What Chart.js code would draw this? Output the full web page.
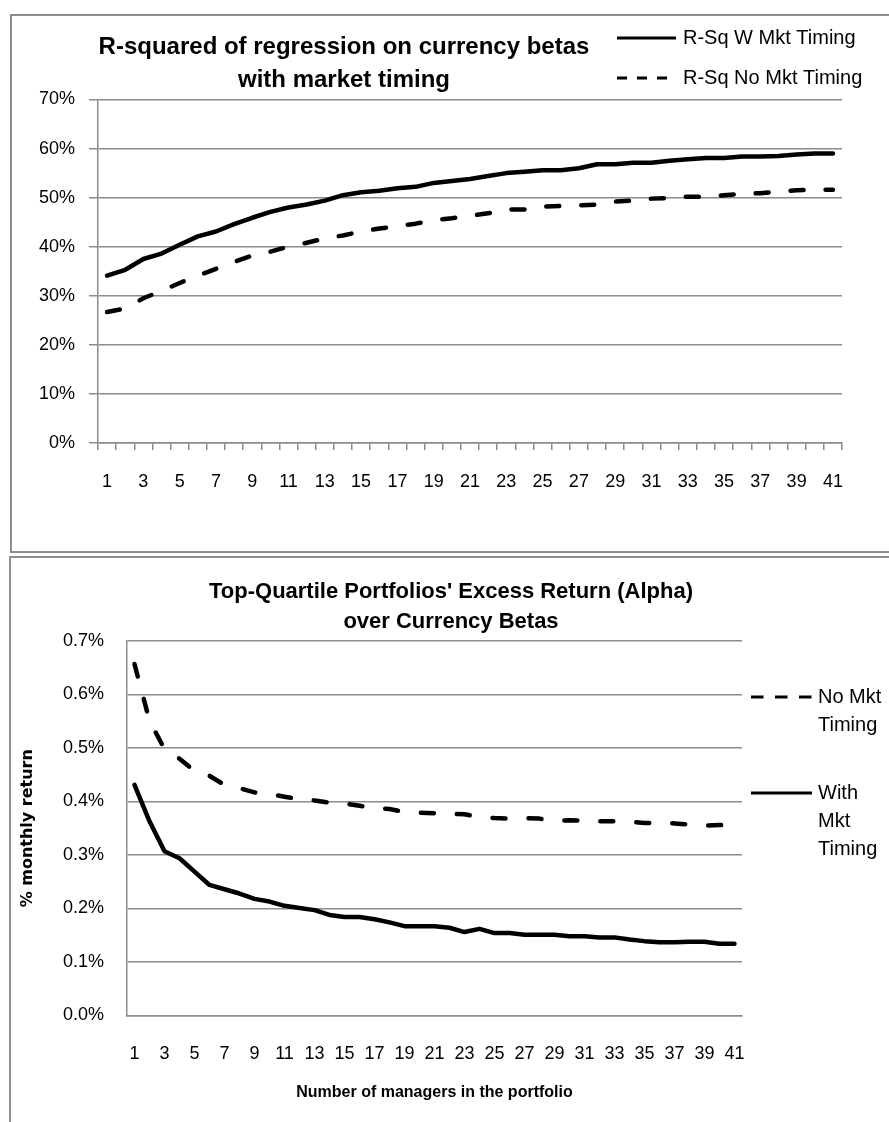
<!DOCTYPE html>
<html>
<head>
<meta charset="utf-8">
<script src="https://cdn.jsdelivr.net/npm/chart.js@4.4.1/dist/chart.umd.min.js"></script>
<style>
html,body{margin:0;padding:0;background:#fff;width:889px;height:1122px;overflow:hidden;position:relative}
.box{position:absolute;border:2px solid #8e8e8e;box-sizing:border-box}
#box1{left:10px;top:14px;width:920px;height:539px}
#box2{left:9px;top:556px;width:920px;height:620px}
canvas{position:absolute;left:0}
#c1{top:0}
#c2{top:555px}
</style>
</head>
<body>
<div class="box" id="box1"></div>
<div class="box" id="box2"></div>
<canvas id="c1" width="889" height="555"></canvas>
<canvas id="c2" width="889" height="567"></canvas>
<script>
// ---------- data ----------
const managers = ['1','2','3','4','5','6','7','8','9','10','11','12','13','14','15','16','17','18','19','20',
  '21','22','23','24','25','26','27','28','29','30','31','32','33','34','35','36','37','38','39','40','41'];

// Chart 1: R-squared (%)
const rsqWithTiming = [34.1,35.3,37.5,38.6,40.4,42.1,43.1,44.6,45.9,47.1,48.0,48.6,49.4,50.5,51.1,51.4,51.9,52.2,53.0,53.4,
  53.8,54.4,55.0,55.3,55.6,55.6,56.0,56.8,56.8,57.1,57.1,57.5,57.8,58.1,58.1,58.4,58.4,58.5,58.8,59.0,59.0];
const rsqNoTiming = [26.7,27.4,29.5,31.0,32.6,34.1,35.5,36.9,38.2,39.0,40.0,40.8,41.7,42.3,43.1,43.7,44.2,44.7,45.4,45.8,
  46.3,46.8,47.6,47.6,48.2,48.3,48.4,48.6,49.2,49.4,49.8,49.9,50.2,50.2,50.5,50.8,50.9,51.2,51.5,51.6,51.6];

// Chart 2: alpha, % monthly return
const alphaNoTiming = [0.657,0.551,0.498,0.480,0.457,0.448,0.431,0.425,0.417,0.414,0.409,0.404,0.402,0.398,0.396,0.392,0.388,0.386,0.380,0.379,
  0.378,0.377,0.376,0.371,0.369,0.368,0.369,0.368,0.364,0.365,0.364,0.363,0.363,0.362,0.360,0.360,0.359,0.357,0.355,0.356,0.355];
const alphaWithTiming = [0.431,0.363,0.307,0.294,0.269,0.244,0.236,0.228,0.218,0.213,0.205,0.201,0.197,0.188,0.184,0.184,0.180,0.174,0.167,0.167,
  0.167,0.164,0.156,0.162,0.154,0.154,0.151,0.151,0.151,0.148,0.148,0.146,0.146,0.142,0.139,0.137,0.137,0.138,0.138,0.134,0.134];

const title1 = ['R-squared of regression on currency betas', 'with market timing'];
const title2 = ["Top-Quartile Portfolios' Excess Return (Alpha)", 'over Currency Betas'];
const series1Labels = ['R-Sq W Mkt Timing', 'R-Sq No Mkt Timing'];
const series2Labels = ['No Mkt Timing', 'With Mkt Timing'];
const legend2Lines = [['No Mkt', 'Timing'], ['With', 'Mkt', 'Timing']];
const yTitle2 = '% monthly return';
const xTitle2 = 'Number of managers in the portfolio';

// ---------- styling ----------
const GRID = '#8c8c8c';
const SANS = "'Liberation Sans', Arial, sans-serif";

function overlay(id, spec) {
  return {
    id: id,
    afterDraw(chart) {
      const ctx = chart.ctx;
      ctx.save();
      ctx.fillStyle = '#000';
      ctx.textBaseline = 'middle';
      ctx.font = spec.titleFont;
      ctx.textAlign = 'center';
      spec.title.forEach((t, k) => ctx.fillText(t, spec.titleX, spec.titleY + k * spec.titleStep));
      ctx.font = spec.legendFont;
      ctx.textAlign = 'left';
      spec.legend.forEach(it => {
        const ds = chart.data.datasets[it.dataset];
        ctx.strokeStyle = ds.borderColor;
        ctx.lineWidth = spec.legendLineWidth;
        ctx.lineCap = 'butt';
        ctx.setLineDash(it.dash);
        ctx.beginPath();
        ctx.moveTo(it.x1, it.y);
        ctx.lineTo(it.x2, it.y);
        ctx.stroke();
        ctx.setLineDash([]);
        it.lines.forEach((ln, j) => ctx.fillText(ln, it.textX, it.y + j * spec.legendStep));
      });
      ctx.restore();
    }
  };
}

const lineStyle = {borderColor: '#000', borderWidth: 4.5, pointRadius: 0, pointHoverRadius: 0, tension: 0,
  borderCapStyle: 'round', borderJoinStyle: 'round', fill: false};

// ---------- chart 1 ----------
new Chart(document.getElementById('c1'), {
  type: 'line',
  data: {
    labels: managers,
    datasets: [
      Object.assign({label: series1Labels[0], data: rsqWithTiming}, lineStyle),
      Object.assign({label: series1Labels[1], data: rsqNoTiming, borderDash: [13, 22]}, lineStyle)
    ]
  },
  options: {
    responsive: false, animation: false, devicePixelRatio: 1,
    layout: {padding: {left: 0, right: 47, top: 99.5, bottom: 52}},
    plugins: {legend: {display: false}, title: {display: false}, tooltip: {enabled: false}},
    scales: {
      x: {
        offset: true,
        grid: {offset: true, drawOnChartArea: false, drawTicks: true, tickLength: 7, color: GRID, lineWidth: 1.5},
        border: {color: GRID, width: 1.5},
        ticks: {autoSkip: false, maxRotation: 0, minRotation: 0, padding: 21, color: '#000',
          font: {family: SANS, size: 18},
          callback: (v, i) => (i % 2 === 0 ? managers[i] : '')},
        afterFit: s => { s.height = 60; }
      },
      y: {
        min: 0, max: 70,
        grid: {color: GRID, lineWidth: 1.5, tickLength: 9},
        border: {color: GRID, width: 1.5},
        ticks: {stepSize: 10, padding: 14, color: '#000', font: {family: SANS, size: 18},
          callback: v => v + '%'},
        afterFit: s => { s.width = 98; }
      }
    }
  },
  plugins: [overlay('overlay1', {
    title: title1, titleX: 344, titleY: 47, titleStep: 33,
    titleFont: "bold 24px " + SANS,
    legendFont: "20px " + SANS, legendLineWidth: 3, legendStep: 0,
    legend: [
      {dataset: 0, x1: 617, x2: 676, y: 38, dash: [], textX: 683, lines: [series1Labels[0]]},
      {dataset: 1, x1: 617, x2: 676, y: 78, dash: [10, 10], textX: 683, lines: [series1Labels[1]]}
    ]
  })]
});

// ---------- chart 2 ----------
new Chart(document.getElementById('c2'), {
  type: 'line',
  data: {
    labels: managers,
    datasets: [
      Object.assign({label: series2Labels[0], data: alphaNoTiming, borderDash: [13, 23]}, lineStyle),
      Object.assign({label: series2Labels[1], data: alphaWithTiming}, lineStyle)
    ]
  },
  options: {
    responsive: false, animation: false, devicePixelRatio: 1,
    layout: {padding: {left: 0, right: 147, top: 86, bottom: 0}},
    plugins: {legend: {display: false}, title: {display: false}, tooltip: {enabled: false}},
    scales: {
      x: {
        offset: true,
        grid: {offset: true, drawOnChartArea: false, drawTicks: false, color: GRID, lineWidth: 1.5},
        border: {color: GRID, width: 1.5},
        ticks: {autoSkip: false, maxRotation: 0, minRotation: 0, padding: 28, color: '#000',
          font: {family: SANS, size: 18},
          callback: (v, i) => (i % 2 === 0 ? managers[i] : '')},
        title: {display: true, text: xTitle2, color: '#000',
          font: {family: SANS, size: 16, weight: 'bold'}, padding: {top: 0, bottom: 20}},
        afterFit: s => { s.height = 106.5; }
      },
      y: {
        min: 0, max: 0.7,
        grid: {color: GRID, lineWidth: 1.5, drawTicks: false},
        border: {color: GRID, width: 1.5},
        ticks: {stepSize: 0.1, padding: 23, color: '#000', font: {family: SANS, size: 18},
          callback: v => v.toFixed(1) + '%'},
        title: {display: true, text: yTitle2, color: '#000',
          font: {family: "'DejaVu Sans', sans-serif", size: 16, weight: 'bold'}, padding: {top: 18, bottom: 0}},
        afterFit: s => { s.width = 127; }
      }
    }
  },
  plugins: [overlay('overlay2', {
    title: title2, titleX: 451, titleY: 37, titleStep: 30,
    titleFont: "bold 22px " + SANS,
    legendFont: "20px " + SANS, legendLineWidth: 3, legendStep: 28,
    legend: [
      {dataset: 0, x1: 751, x2: 812, y: 142, dash: [12.5, 11.5], textX: 818, lines: legend2Lines[0]},
      {dataset: 1, x1: 751, x2: 812, y: 238, dash: [], textX: 818, lines: legend2Lines[1]}
    ]
  })]
});
</script>
</body>
</html>
